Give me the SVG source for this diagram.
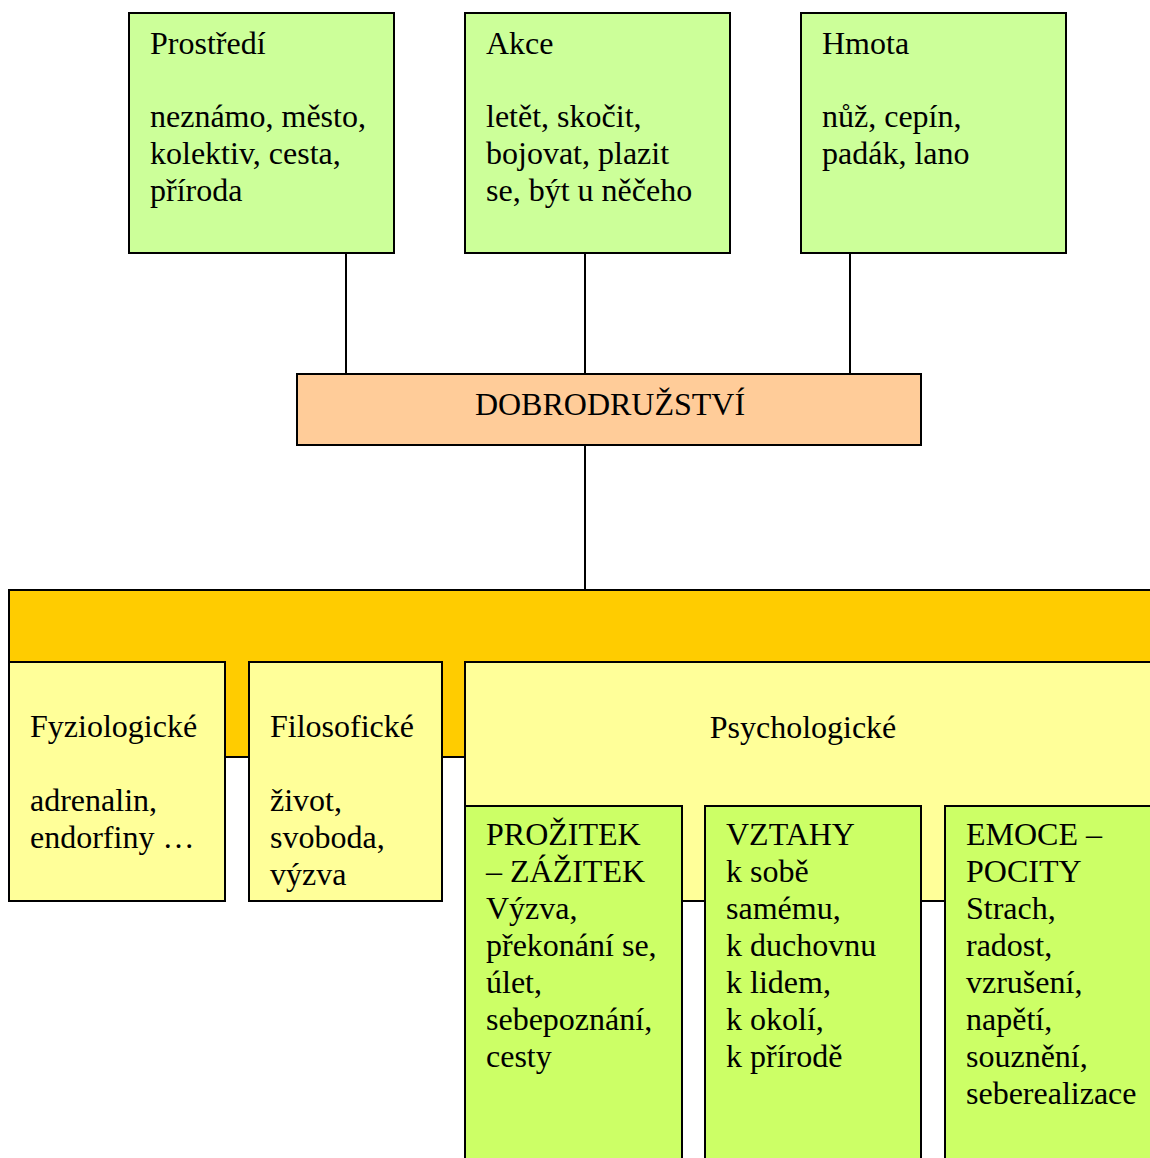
<svg xmlns="http://www.w3.org/2000/svg" width="1150" height="1158" viewBox="0 0 1150 1158">
<style>
text{font-family:"Liberation Serif","Times New Roman",serif;font-size:32px;fill:#000}
.box{stroke:#000;stroke-width:2}
.g1{fill:#CCFF99}.dob{fill:#FFCC99}.or{fill:#FFCC00}.ye{fill:#FFFF99}.g2{fill:#CCFF66}
.conn line{stroke:#000;stroke-width:2}
.c{text-anchor:middle}
</style>
<rect width="1150" height="1158" fill="#fff"/>
<g class="conn">
<line x1="346" y1="253" x2="346" y2="374"/>
<line x1="585" y1="253" x2="585" y2="374"/>
<line x1="850" y1="253" x2="850" y2="374"/>
<line x1="585" y1="445" x2="585" y2="590"/>
</g>
<g id="prostredi">
<rect class="box g1" x="129" y="13" width="265" height="240"/>
<text x="150" y="54">Prostředí</text>
<text x="150" y="127">neznámo, město,</text>
<text x="150" y="164">kolektiv, cesta,</text>
<text x="150" y="201">příroda</text>
</g>
<g id="akce">
<rect class="box g1" x="465" y="13" width="265" height="240"/>
<text x="486" y="54">Akce</text>
<text x="486" y="127">letět, skočit,</text>
<text x="486" y="164">bojovat, plazit</text>
<text x="486" y="201">se, být u něčeho</text>
</g>
<g id="hmota">
<rect class="box g1" x="801" y="13" width="265" height="240"/>
<text x="822" y="54">Hmota</text>
<text x="822" y="127">nůž, cepín,</text>
<text x="822" y="164">padák, lano</text>
</g>
<g id="dobrodruzstvi">
<rect class="box dob" x="297" y="374" width="624" height="71"/>
<text class="c" x="610" y="415">DOBRODRUŽSTVÍ</text>
</g>
<g id="bar">
<rect class="box or" x="9" y="590" width="1150" height="167"/>
</g>
<g id="fyziologicke">
<rect class="box ye" x="9" y="662" width="216" height="239"/>
<text x="30" y="737">Fyziologické</text>
<text x="30" y="811">adrenalin,</text>
<text x="30" y="848">endorfiny …</text>
</g>
<g id="filosoficke">
<rect class="box ye" x="249" y="662" width="193" height="239"/>
<text x="270" y="737">Filosofické</text>
<text x="270" y="811">život,</text>
<text x="270" y="848">svoboda,</text>
<text x="270" y="885">výzva</text>
</g>
<g id="psychologicke">
<rect class="box ye" x="465" y="662" width="700" height="239"/>
<text class="c" x="803" y="738">Psychologické</text>
</g>
<g id="prozitek">
<rect class="box g2" x="465" y="806" width="217" height="370"/>
<text x="486" y="845">PROŽITEK</text>
<text x="486" y="882">– ZÁŽITEK</text>
<text x="486" y="919">Výzva,</text>
<text x="486" y="956">překonání se,</text>
<text x="486" y="993">úlet,</text>
<text x="486" y="1030">sebepoznání,</text>
<text x="486" y="1067">cesty</text>
</g>
<g id="vztahy">
<rect class="box g2" x="705" y="806" width="216" height="370"/>
<text x="726" y="845">VZTAHY</text>
<text x="726" y="882">k sobě</text>
<text x="726" y="919">samému,</text>
<text x="726" y="956">k duchovnu</text>
<text x="726" y="993">k lidem,</text>
<text x="726" y="1030">k okolí,</text>
<text x="726" y="1067">k přírodě</text>
</g>
<g id="emoce">
<rect class="box g2" x="945" y="806" width="220" height="370"/>
<text x="966" y="845">EMOCE –</text>
<text x="966" y="882">POCITY</text>
<text x="966" y="919">Strach,</text>
<text x="966" y="956">radost,</text>
<text x="966" y="993">vzrušení,</text>
<text x="966" y="1030">napětí,</text>
<text x="966" y="1067">souznění,</text>
<text x="966" y="1104">seberealizace</text>
</g>
</svg>
